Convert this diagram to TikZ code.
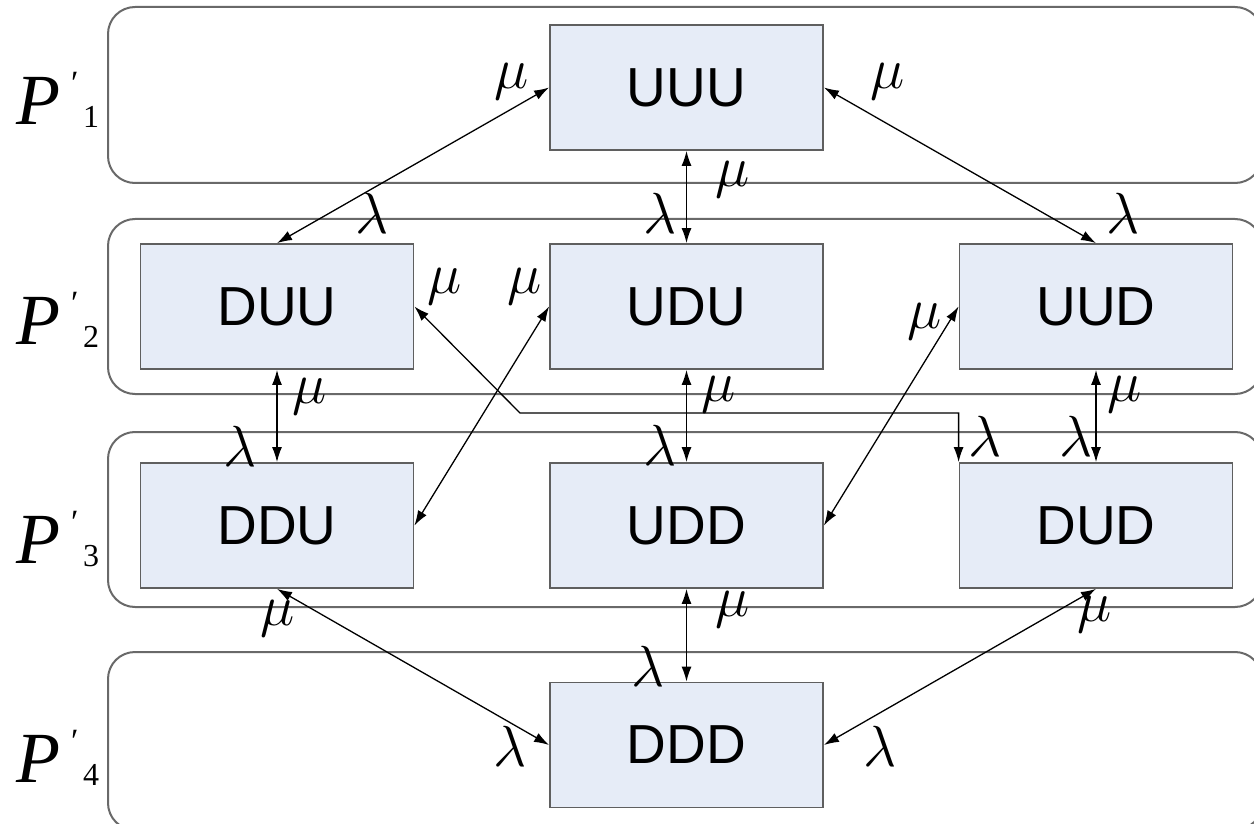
\RequirePackage{fix-cm}
\documentclass[tikz,border=0pt]{standalone}
\usepackage{fontspec}
\setmainfont{Liberation Sans}
\newfontfamily\levelserif{Liberation Serif}
\usetikzlibrary{arrows.meta}

\definecolor{statefill}{RGB}{230,236,247}
\definecolor{stateline}{RGB}{95,95,95}
\definecolor{groupline}{RGB}{105,105,105}

\begin{document}
\begin{tikzpicture}[x=1pt,y=-1pt,
  state/.style={draw=stateline, line width=1.8pt, fill=statefill,
    minimum width=273pt, minimum height=125pt, inner sep=0pt,
    font=\fontsize{55}{55}\selectfont},
  group/.style={draw=groupline, line width=2pt, rounded corners=27pt},
  link/.style={line width=1.3pt,
    {Latex[length=15pt,width=10pt]}-{Latex[length=15pt,width=10pt]}},
  rate/.style={inner sep=0pt, font=\fontsize{58}{58}\selectfont},
  level/.style={inner sep=0pt, anchor=base west}
]
\useasboundingbox (0,0) rectangle (1254,824);

% level groups
\begin{scope}
\clip (0,0) rectangle (1254,824);
\draw[group] (108,7)   rectangle (1262,183);
\draw[group] (108,219) rectangle (1262,394);
\draw[group] (108,432) rectangle (1262,607);
\draw[group] (108,652) rectangle (1262,830);
\end{scope}

% level labels: P, prime, index
\newcommand{\levellabel}[1]{%
  \rlap{\levelserif\itshape\fontsize{72}{72}\selectfont P}%
  \kern55pt\rlap{\raisebox{30pt}{\levelserif\fontsize{34}{34}\selectfont\char"2032}}%
  \kern12pt\raisebox{-3pt}{\levelserif\fontsize{32}{32}\selectfont #1}}
\node[level] (p1) at (16,125) {\levellabel{1}};
\node[level] (p2) at (16,344) {\levellabel{2}};
\node[level] (p3) at (16,563) {\levellabel{3}};
\node[level] (p4) at (16,782) {\levellabel{4}};

% states
\node[state] (UUU) at (686.5,87.5)  {UUU};
\node[state] (DUU) at (277,306.5)   {DUU};
\node[state] (UDU) at (686.5,306.5) {UDU};
\node[state] (UUD) at (1096,306.5)  {UUD};
\node[state] (DDU) at (277,525.5)   {DDU};
\node[state] (UDD) at (686.5,525.5) {UDD};
\node[state] (DUD) at (1096,525.5)  {DUD};
\node[state] (DDD) at (686.5,745)   {DDD};

% transitions
\draw[link] (UUU.west)  -- (DUU.north);
\draw[link] (UUU.east)  -- (UUD.north);
\draw[link] (UUU.south) -- (UDU.north);
\draw[link] (DUU.south) -- (DDU.north);
\draw[link] (UDU.south) -- (UDD.north);
\draw[link] (UUD.south) -- (DUD.north);
\coordinate (bendA) at (520,413);
\coordinate (bendB) at (DUD.north west |- bendA);
\draw[link] (DUU.east) -- (bendA) -- (bendB) -- (DUD.north west);
\draw[link] (UDU.west)  -- (DDU.east);
\draw[link] (UUD.west)  -- (UDD.east);
\draw[link] (DDU.south) -- (DDD.west);
\draw[link] (DUD.south) -- (DDD.east);
\draw[link] (UDD.south) -- (DDD.north);

% rates
\node[rate] (m1)  at (512,82)   {$\mu$};
\node[rate] (m2)  at (888,82)   {$\mu$};
\node[rate] (m3)  at (733,180)  {$\mu$};
\node[rate] (l1)  at (660,213)  {$\lambda$};
\node[rate] (l2)  at (372,213)  {$\lambda$};
\node[rate] (l3)  at (1123,213) {$\lambda$};
\node[rate] (m4)  at (445,287)  {$\mu$};
\node[rate] (m5)  at (525,287)  {$\mu$};
\node[rate] (m6)  at (925,322)  {$\mu$};
\node[rate] (m7)  at (310,397)  {$\mu$};
\node[rate] (l4)  at (240,446)  {$\lambda$};
\node[rate] (m8)  at (719,395)  {$\mu$};
\node[rate] (l5)  at (660,445)  {$\lambda$};
\node[rate] (l6)  at (985,436)  {$\lambda$};
\node[rate] (m9)  at (1125,395) {$\mu$};
\node[rate] (l7)  at (1076,436) {$\lambda$};
\node[rate] (m10) at (278,619)  {$\mu$};
\node[rate] (m11) at (733,610)  {$\mu$};
\node[rate] (m12) at (1095,615) {$\mu$};
\node[rate] (l8)  at (648,666)  {$\lambda$};
\node[rate] (l9)  at (510,746)  {$\lambda$};
\node[rate] (l10) at (880,746)  {$\lambda$};
\end{tikzpicture}
\end{document}
